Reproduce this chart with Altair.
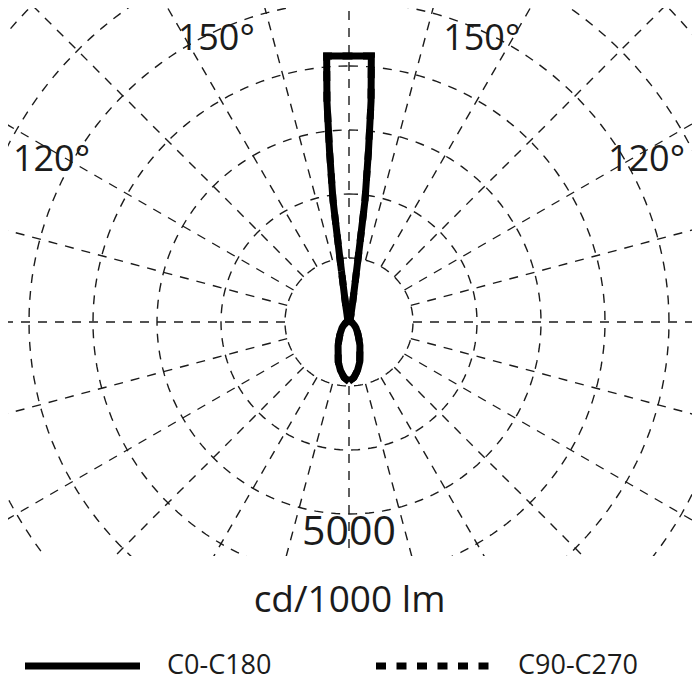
import math
import altair as alt
import pandas as pd

# ---------------- values ----------------
ring_cd = [1250, 2500, 3750, 5000, 6250, 7500, 8750]          # concentric grid rings (cd/1000 lm)
spoke_deg = list(range(0, 360, 15))                           # radial grid lines
gamma_deg = [0, 5, 10, 15, 20, 25, 30, 35, 40, 50, 60, 70, 80, 90,
             105, 120, 135, 150, 160, 165, 169.7, 172, 172.5, 173.5,
             174.3, 175.2, 176, 178, 180]
c0_c180_cd = [1162, 1090, 960, 810, 620, 505, 390, 313, 254, 176, 117, 78, 59, 40,
              40, 40, 40, 50, 80, 150, 430, 1406, 2383, 3359,
              4336, 5214, 5208, 5198, 5195]
c90_c270_cd = [1162, 1090, 960, 810, 620, 505, 390, 313, 254, 176, 117, 78, 59, 40,
               40, 40, 40, 50, 80, 150, 430, 1406, 2383, 3359,
               4336, 5214, 5208, 5198, 5195]
series_names = ["C0-C180", "C90-C270"]
angle_label_text = ["150°", "150°", "120°", "120°"]
angle_label_gamma = [150, 150, 120, 120]
angle_label_side = [-1, 1, -1, 1]
scale_label_value = 5000
unit_title = "cd/1000 lm"

# ---------------- layout ----------------
PX_PER_CD = 256 / 5000
W, H = 684, 548
x_dom = [-341 / PX_PER_CD, 343 / PX_PER_CD]
y_dom = [-234 / PX_PER_CD, 314 / PX_PER_CD]
FONT = "Open Sans"
INK = "#1b1b1b"

def rad(d):
    return math.radians(d)

# rings
ring_rows = []
for r in ring_cd:
    for i, t in enumerate(range(0, 361, 2)):
        ring_rows.append({"ring": r, "i": i, "x": r * math.sin(rad(t)), "y": r * math.cos(rad(t))})
rings = pd.DataFrame(ring_rows)

# spokes
R_OUT = 12000
spokes = pd.DataFrame([{
    "a": a,
    "x": ring_cd[0] * math.sin(rad(a)), "y": ring_cd[0] * math.cos(rad(a)),
    "x2": R_OUT * math.sin(rad(a)), "y2": R_OUT * math.cos(rad(a))} for a in spoke_deg])

# photometric curves (gamma 0 = down, 180 = up)
def curve(name, vals):
    rows = []
    k = 0
    for g, v in zip(gamma_deg, vals):
        rows.append({"series": name, "i": k, "x": -v * math.sin(rad(g)), "y": -v * math.cos(rad(g))})
        k += 1
    for g, v in zip(reversed(gamma_deg), reversed(vals)):
        rows.append({"series": name, "i": k, "x": v * math.sin(rad(g)), "y": -v * math.cos(rad(g))})
        k += 1
    return pd.DataFrame(rows)

cur0 = curve(series_names[0], c0_c180_cd)
cur90 = curve(series_names[1], c90_c270_cd)

# angle labels (placed just beside their radial line, near the outer rings)
lab_rows = []
for txt, g, s in zip(angle_label_text, angle_label_gamma, angle_label_side):
    up = 180 - g
    if g == 150:
        a, r = up - 4.0, 5913
    else:
        a, r = up + 3.1, 6516
    lab_rows.append({"t": txt, "x": s * r * math.sin(rad(a)), "y": r * math.cos(rad(a))})
labels = pd.DataFrame(lab_rows)
scale_lab = pd.DataFrame([{"t": str(scale_label_value), "x": 0,
                           "y": -(scale_label_value - 33 / PX_PER_CD)}])

xs = alt.Scale(domain=x_dom, nice=False, zero=False)
ys = alt.Scale(domain=y_dom, nice=False, zero=False)
x_axis = alt.Axis(title=unit_title, labels=False, ticks=False, domain=False, grid=False,
                  titleFont=FONT, titleFontSize=37, titleFontWeight="normal", titleColor=INK,
                  titleX=341, titleY=55, titleBaseline="alphabetic", titleAlign="center")

def X(f="x"):
    return alt.X(f"{f}:Q", scale=xs, axis=x_axis)

def Y(f="y"):
    return alt.Y(f"{f}:Q", scale=ys, axis=None)

grid_style = dict(stroke=INK, strokeWidth=1.4, strokeDash=[9, 8], clip=True)

ring_layer = alt.Chart(rings).mark_line(**grid_style).encode(
    x=X(), y=Y(), detail="ring:N", order="i:Q")
spoke_layer = alt.Chart(spokes).mark_rule(**grid_style).encode(
    x=X(), y=Y(), x2="x2:Q", y2="y2:Q")

dash_scale = alt.Scale(domain=series_names, range=[[1, 0], [10, 10.5]])
legend = alt.Legend(title=None, orient="none", legendX=13.5, legendY=597, direction="horizontal",
                    symbolType="stroke", symbolSize=13225, symbolStrokeWidth=7,
                    symbolStrokeColor="black", labelFont=FONT, labelFontSize=27,
                    labelColor=INK, labelOffset=23.5, columnPadding=90, padding=0)

curve_style = dict(color="black", strokeWidth=7, strokeJoin="miter", strokeMiterLimit=2, clip=True)
c90_layer = alt.Chart(cur90).mark_line(**curve_style).encode(
    x=X(), y=Y(), order="i:Q",
    strokeDash=alt.StrokeDash("series:N", scale=dash_scale, legend=legend))
c0_layer = alt.Chart(cur0).mark_line(**curve_style).encode(
    x=X(), y=Y(), order="i:Q",
    strokeDash=alt.StrokeDash("series:N", scale=dash_scale, legend=legend))

angle_text = alt.Chart(labels).mark_text(font=FONT, fontSize=36, color=INK,
                                         align="center", baseline="alphabetic").encode(
    x=X(), y=Y(), text="t:N")
scale_text = alt.Chart(scale_lab).mark_text(font=FONT, fontSize=41, color=INK,
                                            align="center", baseline="alphabetic").encode(
    x=X(), y=Y(), text="t:N")

chart = alt.layer(ring_layer, spoke_layer, c90_layer, c0_layer, angle_text, scale_text).properties(
    width=W, height=H,
    autosize=alt.AutoSizeParams(type="none"),
    padding={"left": 0, "top": 0, "right": 0, "bottom": 136},
    background="white",
).configure_view(strokeWidth=0)

chart.save("out.html", embed_options={"renderer": "svg", "actions": False})
